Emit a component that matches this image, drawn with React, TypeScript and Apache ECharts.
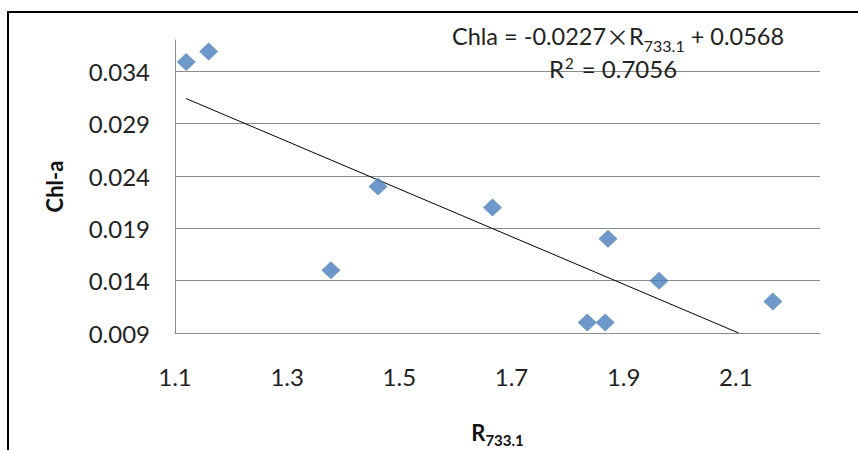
import React, { useEffect, useRef } from "react";
import * as echarts from "echarts";

// Scatter data (R733.1 vs Chl-a)
const X_VALUES = [1.12, 1.16, 1.462, 1.378, 1.666, 1.872, 1.835, 1.867, 1.963, 2.166];
const Y_VALUES = [0.0349, 0.0359, 0.023, 0.015, 0.021, 0.018, 0.01, 0.01, 0.014, 0.012];

// Linear trendline endpoints (clipped at the plot bottom)
const TREND_X = [1.12, 2.105];
const TREND_Y = [0.0314, 0.009];

// Axis ranges and steps
const X_MIN = 1.1;
const X_MAX = 2.25;
const X_STEP = 0.2;
const Y_MIN = 0.009;
const Y_MAX = 0.037;
const Y_STEP = 0.005;

const EQUATION_PARTS = ["Chla = -0.0227", "×", "R", "733.1", " + 0.0568"];
const R2_PARTS = ["R", "2", " = 0.7056"];
const X_NAME = ["R", "733.1"];
const Y_NAME = "Chl-a";

const FONT = "Lato";

export default function App() {
  const ref = useRef<HTMLDivElement>(null);

  useEffect(() => {
    document.body.style.margin = "0";
    if (!ref.current) return;
    const chart = echarts.init(ref.current, null, { renderer: "svg" });

    const scatter = X_VALUES.map((x, i) => [x - X_MIN, Y_VALUES[i] - Y_MIN]);
    const trend = TREND_X.map((x, i) => [x - X_MIN, TREND_Y[i] - Y_MIN]);

    chart.setOption({
      animation: false,
      backgroundColor: "#ffffff",
      grid: { left: 175, right: 38, top: 40, bottom: 117, containLabel: false, outerBoundsMode: "none" },
      xAxis: {
        type: "value",
        min: 0,
        max: +(X_MAX - X_MIN).toFixed(4),
        interval: X_STEP,
        axisLine: { show: true, onZero: false, lineStyle: { color: "#8c8c8c", width: 1 } },
        axisTick: { show: false },
        splitLine: { show: false },
        axisLabel: {
          showMaxLabel: false,
          margin: 31,
          fontFamily: FONT,
          fontSize: 24,
          color: "#222",
          formatter: (v: number) => (v + X_MIN).toFixed(1),
        },
        name: `{b|${X_NAME[0]}}{s|${X_NAME[1]}}`,
        nameLocation: "middle",
        nameGap: 84,
        nameTextStyle: {
          rich: {
            b: { fontFamily: FONT, fontSize: 22, fontWeight: "bold", color: "#111", lineHeight: 26, verticalAlign: "bottom" },
            s: { fontFamily: FONT, fontSize: 15, fontWeight: "bold", color: "#111", lineHeight: 12, verticalAlign: "bottom", padding: [0, 0, -4, 0] },
          },
        },
      },
      yAxis: {
        type: "value",
        min: 0,
        max: +(Y_MAX - Y_MIN).toFixed(4),
        interval: Y_STEP,
        axisLine: { show: true, lineStyle: { color: "#8c8c8c", width: 1 } },
        axisTick: { show: false },
        splitLine: { show: true, showMaxLine: false, lineStyle: { color: "#8c8c8c", width: 1 } },
        axisLabel: {
          showMaxLabel: false,
          margin: 25,
          fontFamily: FONT,
          fontSize: 24,
          color: "#222",
          formatter: (v: number) => (v + Y_MIN).toFixed(3),
        },
        name: Y_NAME,
        nameLocation: "middle",
        nameGap: 110,
        nameRotate: 90,
        nameTextStyle: { fontFamily: FONT, fontSize: 22, fontWeight: "bold", color: "#111" },
      },
      series: [
        {
          type: "scatter",
          data: scatter,
          symbol: "diamond",
          symbolSize: [19, 18],
          itemStyle: { color: "#4A7EBB" },
          z: 3,
        },
        {
          type: "line",
          data: trend,
          showSymbol: false,
          symbol: "none",
          clip: true,
          lineStyle: { color: "#000", width: 1 },
          z: 2,
        },
      ],
      graphic: [
        {
          type: "rect",
          shape: { x: 8, y: 12, width: 1000, height: 600 },
          style: { fill: "none", stroke: "#000", lineWidth: 2 },
          silent: true,
          z: 10,
        },
        {
          type: "text",
          x: 618,
          y: 34,
          style: {
            text: `{n|${EQUATION_PARTS[0]}}{x|${EQUATION_PARTS[1]}}{n|${EQUATION_PARTS[2]}}{s|${EQUATION_PARTS[3]}}{n|${EQUATION_PARTS[4]}}`,
            align: "center",
            verticalAlign: "middle",
            rich: {
              n: { fontFamily: FONT, fontSize: 23.5, fill: "#222", lineHeight: 27, verticalAlign: "bottom" },
              x: { fontFamily: "Noto Sans CJK SC", fontSize: 23, fill: "#222", lineHeight: 27, verticalAlign: "bottom" },
              s: { fontFamily: FONT, fontSize: 16, fill: "#222", lineHeight: 12, verticalAlign: "bottom", padding: [0, 0, -6, 0] },
            },
          },
          z: 11,
        },
        {
          type: "text",
          x: 613,
          y: 66,
          style: {
            text: `{n|${R2_PARTS[0]}}{p|${R2_PARTS[1]}}{n|${R2_PARTS[2]}}`,
            align: "center",
            verticalAlign: "middle",
            rich: {
              n: { fontFamily: FONT, fontSize: 24, fill: "#222", lineHeight: 28, verticalAlign: "bottom" },
              p: { fontFamily: FONT, fontSize: 15, fill: "#222", lineHeight: 16, verticalAlign: "top", padding: [3, 2, 0, 1] },
            },
          },
          z: 11,
        },
      ],
    });

    return () => chart.dispose();
  }, []);

  return <div ref={ref} style={{ width: 858, height: 450 }} />;
}
